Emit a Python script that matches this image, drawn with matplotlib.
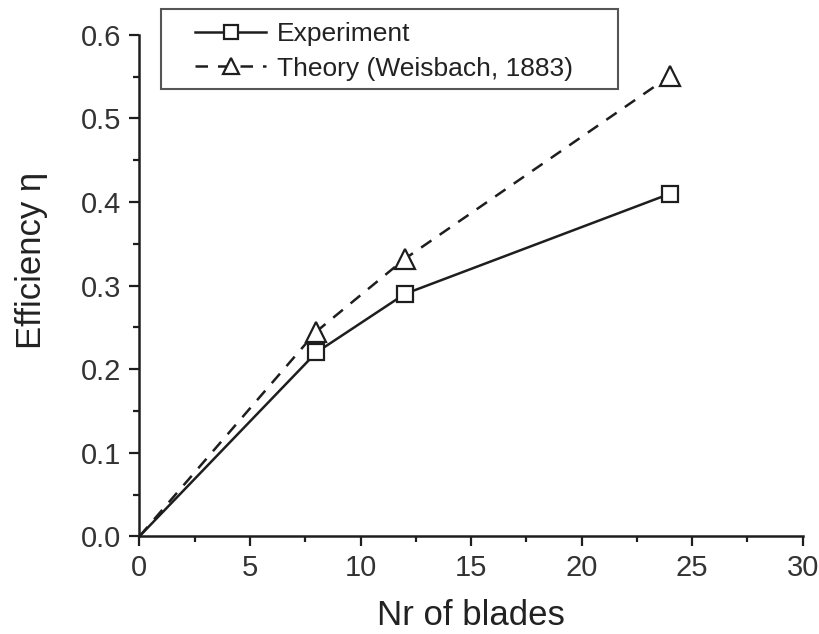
import matplotlib
matplotlib.use('Agg')
import matplotlib.pyplot as plt
from matplotlib.ticker import MultipleLocator
from matplotlib.patches import Rectangle

# data
blades = [0, 8, 12, 24]
eta_experiment = [0.0, 0.22, 0.29, 0.41]
eta_theory = [0.0, 0.245, 0.332, 0.551]

ink = '#1e1e1e'
plt.rcParams['font.family'] = ['Liberation Sans', 'DejaVu Sans']

fig = plt.figure(figsize=(8.2, 6.34), dpi=100)
ax = fig.add_axes([0.170, 0.154, 0.809, 0.791])

ax.plot(blades, eta_experiment, '-', color=ink, lw=1.8,
        marker='s', ms=12, mfc='white', mec=ink, mew=1.6,
        markevery=[1, 2, 3], label='Experiment')
ax.plot(blades, eta_theory, '--', color=ink, lw=1.8, dashes=(5, 4),
        marker='^', ms=14, mfc='white', mec=ink, mew=1.6,
        markevery=[1, 2, 3], label='Theory (Weisbach, 1883)')

ax.set_xlim(0, 30)
ax.set_ylim(0, 0.6)
ax.xaxis.set_major_locator(MultipleLocator(5))
ax.xaxis.set_minor_locator(MultipleLocator(2.5))
ax.yaxis.set_major_locator(MultipleLocator(0.1))
ax.yaxis.set_minor_locator(MultipleLocator(0.05))
ax.yaxis.set_major_formatter(plt.FormatStrFormatter('%.1f'))

for side in ['top', 'right']:
    ax.spines[side].set_visible(False)
for side in ['left', 'bottom']:
    ax.spines[side].set_linewidth(1.8)
    ax.spines[side].set_color(ink)

ax.tick_params(which='major', direction='out', length=7, width=1.6,
               color=ink, labelsize=21, labelcolor='#333333', pad=6)
ax.tick_params(which='minor', direction='out', length=4, width=1.6, color=ink)

ax.set_xlabel('Nr of blades', fontsize=25, color='#222222', labelpad=12)
ax.set_ylabel('Efficiency η', fontsize=25, color='#222222', labelpad=24, y=0.55)

# legend without frame, the frame is drawn separately (wide padding as in original)
leg = ax.legend(loc='upper left', bbox_to_anchor=(195 / 820, 1 - 22 / 634),
                bbox_transform=fig.transFigure, fontsize=19,
                handlelength=2.7, handletextpad=0.4, borderpad=0,
                labelspacing=0.4, frameon=False, markerscale=0.8,
                borderaxespad=0)
for t in leg.get_texts():
    t.set_color('#222222')
fig.patches.append(Rectangle((161 / 820, 1 - 89 / 634), 457 / 820, 80 / 634,
                             transform=fig.transFigure, fill=False,
                             edgecolor='#555555', lw=1.5))

fig.savefig('out.png', dpi=100)
